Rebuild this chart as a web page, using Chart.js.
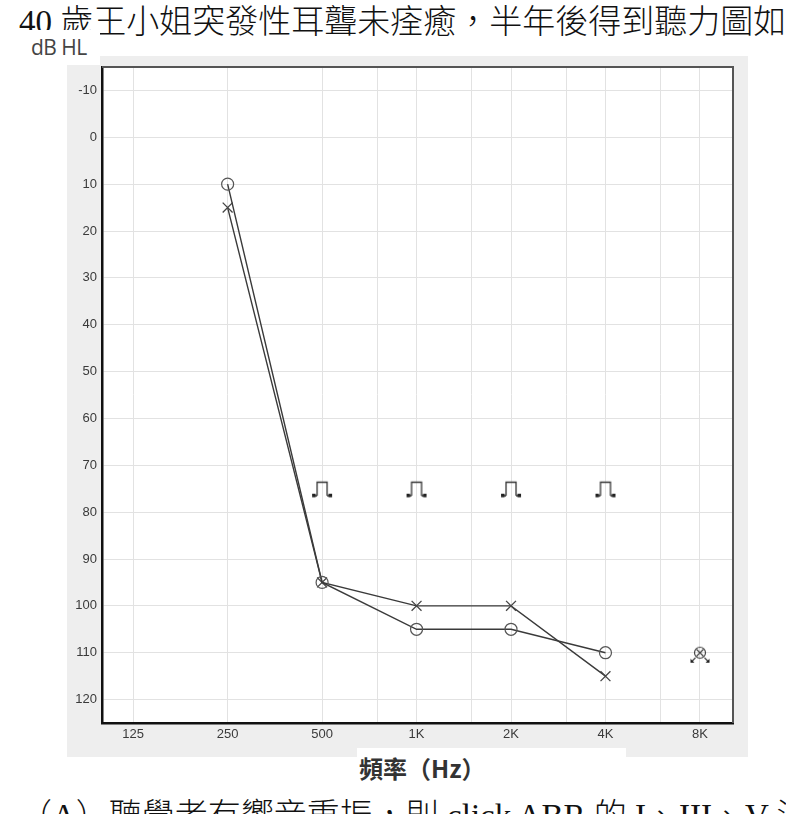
<!DOCTYPE html>
<html>
<head>
<meta charset="utf-8">
<script src="https://cdn.jsdelivr.net/npm/chart.js@4/dist/chart.umd.min.js"></script>
<style>
  body { margin: 0; width: 786px; height: 814px; overflow: hidden; background: #fff; position: relative; }
  .line-text { position: absolute; left: 19px; white-space: nowrap; font-family: 'Liberation Serif', 'Noto Sans CJK TC', serif; font-weight: 300; font-size: 33px; color: #111; }
  #panel { position: absolute; left: 67px; top: 56px; width: 681px; height: 701px; background: #eeeeee; }
  #ylab { position: absolute; left: 28px; top: 30px; width: 72px; height: 35px; background: #fff; font: 21px 'Open Sans', sans-serif; color: #444; line-height: 34px; padding-left: 3px; box-sizing: border-box; letter-spacing: -0.5px; }
  #xlab { position: absolute; left: 357px; top: 748px; width: 269px; height: 40px; background: #fff; font: bold 24px 'Noto Sans CJK TC', sans-serif; color: #333; line-height: 40px; padding-left: 2px; box-sizing: border-box; }
  canvas { position: absolute; left: 0; top: 0; }
</style>
</head>
<body>
<div class="line-text" style="top:-5px">40 歲王小姐突發性耳聾未痊癒，半年後得到聽力圖如下</div>
<div id="panel"></div>
<div id="ylab">dB HL</div>
<div id="xlab">頻率（Hz）</div>
<div class="line-text" style="top:789px">（A）聽覺者有響音重振，則 click ABR 的 I、III、V 波</div>
<canvas id="chart" width="786" height="814"></canvas>
<script>
// frequencies, one octave apart
const freqLabels = ['125', '250', '500', '1K', '2K', '4K', '8K'];
const freqPos = [0, 1, 2, 3, 4, 5, 6];
// half-octave grid lines (750, 1500, 3000, 6000 Hz)
const midGrid = [2.585, 3.585, 4.585, 5.585];
const dbTicks = [-10, 0, 10, 20, 30, 40, 50, 60, 70, 80, 90, 100, 110, 120];

// thresholds in dB HL
const circleEar = [null, 10, 95, 105, 105, 110, null];
const crossEar = [null, 15, 95, 100, 100, 115, null];
const boneMarks = [null, null, 75, 75, 75, 75, null];
const noResponse = [null, null, null, null, null, null, 110];

const toPoints = (arr) => arr.map((v, i) => ({ x: freqPos[i], y: v })).filter((p) => p.y !== null);

// symbol for the masked bone conduction marks
const bracketIcon = (() => {
  const c = document.createElement('canvas');
  c.width = 22; c.height = 20;
  const g = c.getContext('2d');
  g.strokeStyle = '#333'; g.fillStyle = '#222'; g.lineWidth = 1.3;
  g.beginPath();
  g.moveTo(6, 17); g.lineTo(6, 3.5); g.lineTo(16, 3.5); g.lineTo(16, 17);
  g.moveTo(3, 17); g.lineTo(6, 17);
  g.moveTo(16, 17); g.lineTo(19, 17);
  g.stroke();
  g.fillRect(1, 15, 3.5, 3.5);
  g.fillRect(17.5, 15, 3.5, 3.5);
  return c;
})();

// circle + cross with arrows (no response)
const noRespIcon = (() => {
  const c = document.createElement('canvas');
  c.width = 26; c.height = 26;
  const g = c.getContext('2d');
  g.strokeStyle = '#444'; g.fillStyle = '#222'; g.lineWidth = 1.2;
  g.beginPath(); g.arc(13, 13, 5.5, 0, Math.PI * 2); g.stroke();
  g.beginPath();
  g.moveTo(9.5, 9.5); g.lineTo(16.5, 16.5);
  g.moveTo(16.5, 9.5); g.lineTo(9.5, 16.5);
  g.moveTo(8.5, 18); g.lineTo(5, 21.5);
  g.moveTo(17.5, 18); g.lineTo(21, 21.5);
  g.stroke();
  g.beginPath(); g.moveTo(3.5, 23); g.lineTo(3.5, 19); g.lineTo(7.5, 23); g.closePath(); g.fill();
  g.beginPath(); g.moveTo(22.5, 23); g.lineTo(22.5, 19); g.lineTo(18.5, 23); g.closePath(); g.fill();
  return c;
})();

const plotFrame = {
  id: 'plotFrame',
  beforeDraw(chart) {
    const { ctx, chartArea: a } = chart;
    ctx.save();
    ctx.fillStyle = '#fff';
    ctx.fillRect(a.left, a.top, a.right - a.left, a.bottom - a.top);
    ctx.restore();
  },
  afterDraw(chart) {
    const { ctx, chartArea: a } = chart;
    ctx.save();
    ctx.strokeStyle = '#555';
    ctx.lineWidth = 2;
    ctx.beginPath();
    ctx.moveTo(a.left, a.top);
    ctx.lineTo(a.right, a.top);
    ctx.lineTo(a.right, a.bottom);
    ctx.stroke();
    ctx.restore();
  },
};

new Chart(document.getElementById('chart'), {
  type: 'line',
  data: {
    datasets: [
      {
        data: toPoints(circleEar),
        borderColor: '#3a3a3a',
        borderWidth: 1.4,
        pointStyle: 'circle',
        pointRadius: 6,
        pointBorderColor: '#555',
        pointBackgroundColor: 'rgba(0,0,0,0)',
        pointBorderWidth: 1.2,
      },
      {
        data: toPoints(crossEar),
        borderColor: '#3a3a3a',
        borderWidth: 1.4,
        pointStyle: 'crossRot',
        pointRadius: 7,
        pointBorderColor: '#444',
        pointBorderWidth: 1.3,
      },
      {
        data: toPoints(boneMarks),
        showLine: false,
        pointStyle: bracketIcon,
      },
      {
        data: toPoints(noResponse),
        showLine: false,
        pointStyle: noRespIcon,
      },
    ],
  },
  options: {
    responsive: false,
    animation: false,
    layout: { padding: { left: 0, right: 53, top: 67, bottom: 61 } },
    plugins: { legend: { display: false }, tooltip: { enabled: false } },
    scales: {
      x: {
        type: 'linear',
        min: -0.33,
        max: 6.35,
        afterBuildTicks: (scale) => {
          scale.ticks = freqPos.concat(midGrid).sort((a, b) => a - b).map((v) => ({ value: v }));
        },
        afterFit: (scale) => { scale.height = 30; },
        ticks: {
          autoSkip: false,
          maxRotation: 0,
          padding: 4,
          color: '#3a3a3a',
          font: { family: "'Liberation Sans', Arial, sans-serif", size: 13 },
          callback: (v) => {
            const i = freqPos.indexOf(v);
            return i >= 0 ? freqLabels[i] : '';
          },
        },
        grid: { color: '#e2e2e2', lineWidth: 1, drawTicks: false },
        border: { display: true, color: '#111', width: 2.5 },
      },
      y: {
        reverse: true,
        min: -15,
        max: 125,
        afterBuildTicks: (scale) => {
          scale.ticks = dbTicks.map((v) => ({ value: v }));
        },
        afterFit: (scale) => { scale.width = 102; },
        ticks: {
          padding: 5,
          color: '#3a3a3a',
          font: { family: "'Liberation Sans', Arial, sans-serif", size: 13 },
        },
        grid: { color: '#e2e2e2', lineWidth: 1, drawTicks: false },
        border: { display: true, color: '#111', width: 2.5 },
      },
    },
  },
  plugins: [plotFrame],
});
</script>
</body>
</html>
